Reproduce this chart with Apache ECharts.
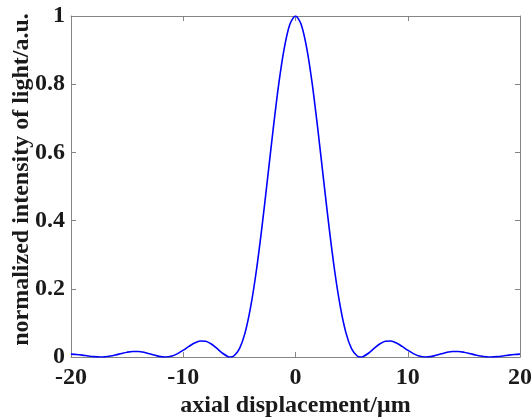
<!DOCTYPE html>
<html><head><meta charset="utf-8">
<script src="https://cdn.jsdelivr.net/npm/echarts@6/dist/echarts.min.js"></script>
<style>html,body{margin:0;padding:0;background:#fff}#c{width:531px;height:417px}</style>
</head><body><div id="c"></div>
<script>
// axial displacement (um), half-profile (curve is symmetric)
const xHalf = [0,0.5,1,1.5,2,2.5,3,3.5,4,4.5,5,5.5,5.8,6,6.5,7,7.5,8,8.5,9,9.5,10,10.5,11,11.6,12,12.5,13,13.5,14,14.5,15,15.5,16,16.5,17,17.4,18,18.5,19,19.5,20];
const yHalf = [1,0.976,0.906,0.799,0.665,0.520,0.378,0.250,0.146,0.070,0.024,0.003,0,0.001,0.011,0.025,0.038,0.046,0.047,0.041,0.031,0.020,0.010,0.003,0,0.001,0.005,0.0095,0.0137,0.0161,0.0162,0.0141,0.0104,0.0063,0.0027,0.0005,0,0.0011,0.0031,0.0055,0.0074,0.0083];
const xTicks = [-20,-10,0,10,20];
const yTicks = [0,0.2,0.4,0.6,0.8,1];

const data = [];
for (let i = xHalf.length - 1; i > 0; i--) data.push([-xHalf[i], yHalf[i]]);
for (let i = 0; i < xHalf.length; i++) data.push([xHalf[i], yHalf[i]]);

const font = 'Liberation Serif';
const axisColor = '#858585';
const labelStyle = {fontFamily: font, fontWeight: 'bold', fontSize: 24, color: '#1a1a1a'};
const lineStyle = {show: true, onZero: false, lineStyle: {color: axisColor, width: 1}};
const tick = {show: true, inside: true, length: 5, lineStyle: {color: axisColor}};

const chart = echarts.init(document.getElementById('c'), null, {renderer: 'canvas'});
chart.setOption({
  animation: false,
  backgroundColor: '#fff',
  grid: {left: 71, right: 11, top: 16, bottom: 60, containLabel: false, outerBoundsMode: 'none'},
  xAxis: [
    {type: 'value', min: -20, max: 20, interval: 10, position: 'bottom',
     axisLine: lineStyle, axisTick: tick, splitLine: {show: false},
     axisLabel: Object.assign({margin: 9}, labelStyle),
     name: 'axial displacement/μm', nameLocation: 'middle', nameGap: 37, nameMoveOverlap: false,
     nameTextStyle: labelStyle},
    {type: 'value', min: -20, max: 20, interval: 10, position: 'top',
     axisLine: lineStyle, axisTick: tick, splitLine: {show: false},
     axisLabel: {show: false}}
  ],
  yAxis: [
    {type: 'value', min: 0, max: 1, interval: 0.2, position: 'left',
     axisLine: lineStyle, axisTick: tick, splitLine: {show: false},
     axisLabel: Object.assign({margin: 6, formatter: v => String(+v.toFixed(1))}, labelStyle),
     name: 'normalized intensity of light/a.u.', nameLocation: 'middle', nameGap: 37, nameMoveOverlap: false,
     nameTextStyle: Object.assign({padding: [0, 0, 0, 14]}, labelStyle)},
    {type: 'value', min: 0, max: 1, interval: 0.2, position: 'right',
     axisLine: lineStyle, axisTick: tick, splitLine: {show: false},
     axisLabel: {show: false}}
  ],
  series: [{
    type: 'line', data: data, showSymbol: false, smooth: 0.3,
    lineStyle: {color: '#0000ff', width: 1.6}, xAxisIndex: 0, yAxisIndex: 0
  }]
});
</script></body></html>
